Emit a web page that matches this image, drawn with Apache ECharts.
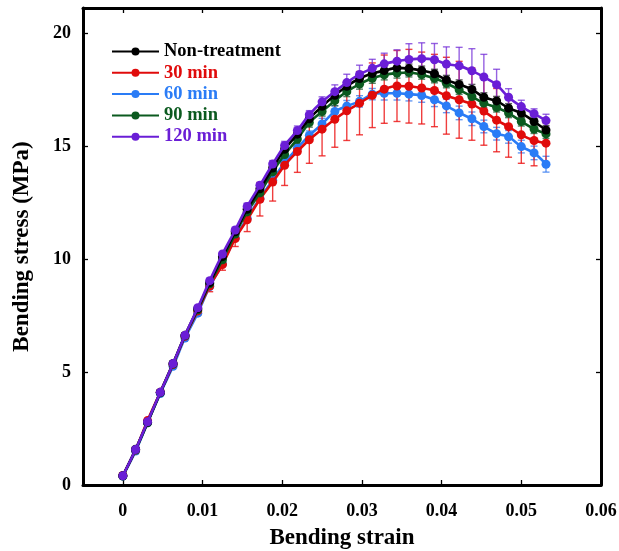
<!DOCTYPE html>
<html><head><meta charset="utf-8">
<script src="https://cdn.jsdelivr.net/npm/echarts@6/dist/echarts.min.js"></script>
<style>html,body{margin:0;padding:0;background:#fff}#c{width:619px;height:551px}</style>
</head><body><div id="c"></div>
<script>
const strain = [0, 0.0016, 0.0031, 0.0047, 0.0063, 0.0078, 0.0094, 0.0109, 0.0125, 0.0141, 0.0156, 0.0172, 0.0188, 0.0203, 0.0219, 0.0234, 0.025, 0.0266, 0.0281, 0.0297, 0.0313, 0.0328, 0.0344, 0.0359, 0.0375, 0.0391, 0.0406, 0.0422, 0.0438, 0.0453, 0.0469, 0.0484, 0.05, 0.0516, 0.0531];

const seriesNames = ['Non-treatment', '30 min', '60 min', '90 min', '120 min'];

const stressNon = [0.41, 1.58, 2.78, 4.10, 5.38, 6.62, 7.80, 8.95, 10.10, 11.20, 12.20, 13.10, 14.02, 14.85, 15.52, 16.20, 16.75, 17.24, 17.64, 17.98, 18.20, 18.33, 18.45, 18.42, 18.33, 18.19, 17.92, 17.72, 17.50, 17.15, 16.99, 16.67, 16.45, 16.08, 15.70];
const err0Non = [0.05, 0.08, 0.05, 0.05, 0.05, 0.05, 0.08, 0.08, 0.10, 0.10, 0.12, 0.15, 0.15, 0.18, 0.20, 0.20, 0.20, 0.22, 0.20, 0.20, 0.22, 0.22, 0.22, 0.20, 0.20, 0.20, 0.20, 0.20, 0.22, 0.20, 0.20, 0.20, 0.20, 0.20, 0.20];

const stress30 = [0.42, 1.55, 2.85, 4.10, 5.33, 6.58, 7.70, 8.80, 9.75, 10.90, 11.73, 12.64, 13.40, 14.14, 14.75, 15.27, 15.74, 16.18, 16.55, 16.89, 17.24, 17.51, 17.65, 17.64, 17.56, 17.45, 17.22, 17.04, 16.85, 16.54, 16.14, 15.85, 15.49, 15.24, 15.12];
const err30 = [0.05, 0.05, 0.10, 0.10, 0.12, 0.15, 0.20, 0.25, 0.25, 0.35, 0.52, 0.74, 0.84, 0.89, 0.92, 1.04, 1.18, 1.24, 1.31, 1.40, 1.43, 1.51, 1.57, 1.63, 1.59, 1.60, 1.70, 1.70, 1.60, 1.51, 1.40, 1.35, 1.26, 1.12, 0.90];

const stress60 = [0.40, 1.50, 2.75, 4.05, 5.25, 6.50, 7.60, 8.78, 9.78, 10.93, 11.80, 12.68, 13.48, 14.26, 14.90, 15.46, 15.97, 16.52, 16.76, 16.97, 17.29, 17.33, 17.33, 17.29, 17.23, 17.04, 16.77, 16.46, 16.20, 15.86, 15.54, 15.40, 14.97, 14.69, 14.19];
const err60 = [0.05, 0.05, 0.05, 0.05, 0.05, 0.05, 0.08, 0.08, 0.10, 0.12, 0.15, 0.15, 0.15, 0.18, 0.20, 0.20, 0.25, 0.25, 0.25, 0.25, 0.25, 0.30, 0.30, 0.30, 0.30, 0.30, 0.30, 0.30, 0.30, 0.28, 0.28, 0.28, 0.28, 0.30, 0.35];

const stress90 = [0.40, 1.55, 2.75, 4.08, 5.35, 6.60, 7.75, 8.90, 9.96, 11.10, 12.08, 12.92, 13.85, 14.62, 15.30, 16.03, 16.52, 17.00, 17.40, 17.73, 17.99, 18.14, 18.22, 18.25, 18.15, 17.99, 17.77, 17.48, 17.18, 16.89, 16.70, 16.45, 16.08, 15.75, 15.53];
const err90 = [0.05, 0.05, 0.05, 0.05, 0.05, 0.05, 0.08, 0.08, 0.10, 0.10, 0.12, 0.15, 0.15, 0.18, 0.20, 0.20, 0.20, 0.22, 0.22, 0.22, 0.22, 0.22, 0.22, 0.20, 0.20, 0.20, 0.20, 0.20, 0.20, 0.20, 0.20, 0.20, 0.20, 0.20, 0.20];

const stress120 = [0.41, 1.57, 2.80, 4.10, 5.37, 6.62, 7.84, 9.04, 10.22, 11.28, 12.32, 13.26, 14.20, 15.02, 15.68, 16.38, 16.95, 17.40, 17.80, 18.16, 18.43, 18.63, 18.75, 18.82, 18.86, 18.81, 18.62, 18.54, 18.32, 18.05, 17.71, 17.15, 16.74, 16.42, 16.12];
const err120 = [0.05, 0.05, 0.05, 0.05, 0.05, 0.08, 0.08, 0.10, 0.10, 0.12, 0.15, 0.12, 0.15, 0.18, 0.20, 0.18, 0.22, 0.30, 0.37, 0.41, 0.40, 0.47, 0.50, 0.70, 0.70, 0.72, 0.76, 0.82, 0.98, 1.00, 0.68, 0.38, 0.28, 0.22, 0.28];

const xTicks = [0, 0.01, 0.02, 0.03, 0.04, 0.05, 0.06];
const yTicks = [0, 5, 10, 15, 20];

const colors = ['#000000', '#e00b0b', '#2a7cf6', '#0b5a1f', '#6a1ed6'];
const errColors = ['rgba(50,50,50,0.8)', 'rgba(235,15,15,0.8)', 'rgba(50,120,240,0.75)', 'rgba(30,85,45,0.75)', 'rgba(115,45,215,0.75)'];
const allStress = [stressNon, stress30, stress60, stress90, stress120];
const allErr = [err0Non, err30, err60, err90, err120];

const FONT = "'Liberation Serif', 'Times New Roman', serif";

function errRender(color) {
  return function (params, api) {
    const x = api.value(0), y = api.value(1), e = api.value(2);
    const t = api.coord([x, y + e]);
    const b = api.coord([x, y - e]);
    const w = 3.5;
    const st = { stroke: color, lineWidth: 1.4 };
    return {
      type: 'group',
      children: [
        { type: 'line', shape: { x1: t[0], y1: t[1], x2: b[0], y2: b[1] }, style: st },
        { type: 'line', shape: { x1: t[0] - w, y1: t[1], x2: t[0] + w, y2: t[1] }, style: st },
        { type: 'line', shape: { x1: b[0] - w, y1: b[1], x2: b[0] + w, y2: b[1] }, style: st }
      ]
    };
  };
}

const drawOrder = [2, 1, 3, 0, 4];
const series = [];
drawOrder.forEach(function (k) {
  series.push({
    type: 'custom',
    name: seriesNames[k] + ' err',
    renderItem: errRender(errColors[k]),
    data: strain.map((x, i) => [x, allStress[k][i], allErr[k][i]]),
    encode: { x: 0, y: 1 },
    z: 1,
    silent: true
  });
});
drawOrder.forEach(function (k, j) {
  series.push({
    type: 'line',
    name: seriesNames[k],
    data: strain.map((x, i) => [x, allStress[k][i]]),
    smooth: 0.3,
    symbol: 'circle',
    symbolSize: 9,
    showSymbol: true,
    color: colors[k],
    lineStyle: { width: 2.6, color: colors[k] },
    itemStyle: { color: colors[k] },
    z: 3 + j
  });
});

const chart = echarts.init(document.getElementById('c'), null, { renderer: 'canvas' });
const axisLine = { show: true, onZero: false, lineStyle: { color: '#000', width: 3 } };
chart.setOption({
  animation: false,
  backgroundColor: '#fff',
  grid: { left: 83, right: 18, top: 8, bottom: 66, containLabel: false, outerBoundsMode: 'none' },
  legend: {
    left: 111, top: 42, orient: 'vertical', padding: 0,
    itemWidth: 47, itemHeight: 10, itemGap: 2.3,
    data: seriesNames.map((n, i) => ({ name: n, textStyle: { color: colors[i] } })),
    textStyle: { fontFamily: FONT, fontWeight: 'bold', fontSize: 18.5 },
    selectedMode: false
  },
  xAxis: [
    {
      type: 'value', min: -0.005, max: 0.06, position: 'bottom',
      axisLine: axisLine,
      axisTick: { show: true, inside: true, length: 5, customValues: xTicks, lineStyle: { color: '#000', width: 1.3 } },
      axisLabel: { customValues: xTicks, color: '#000', fontFamily: FONT, fontWeight: 'bold', fontSize: 18, margin: 17 },
      splitLine: { show: false },
      name: 'Bending strain', nameLocation: 'middle', nameGap: 42,
      nameTextStyle: { color: '#000', fontFamily: FONT, fontWeight: 'bold', fontSize: 23 }
    },
    {
      type: 'value', min: -0.005, max: 0.06, position: 'top',
      axisLine: axisLine,
      axisTick: { show: true, inside: true, length: 5, customValues: xTicks, lineStyle: { color: '#000', width: 1.3 } },
      axisLabel: { show: false },
      splitLine: { show: false }
    }
  ],
  yAxis: [
    {
      type: 'value', min: 0, max: 21.1, position: 'left',
      axisLine: axisLine,
      axisTick: { show: true, inside: true, length: 5, customValues: yTicks, lineStyle: { color: '#000', width: 1.3 } },
      axisLabel: { customValues: yTicks, color: '#000', fontFamily: FONT, fontWeight: 'bold', fontSize: 18, margin: 12 },
      splitLine: { show: false },
      name: 'Bending stress (MPa)', nameLocation: 'middle', nameGap: 49,
      nameTextStyle: { color: '#000', fontFamily: FONT, fontWeight: 'bold', fontSize: 23 }
    },
    {
      type: 'value', min: 0, max: 21.1, position: 'right',
      axisLine: axisLine,
      axisTick: { show: true, inside: true, length: 5, customValues: yTicks, lineStyle: { color: '#000', width: 1.3 } },
      axisLabel: { show: false },
      splitLine: { show: false }
    }
  ],
  series: series
});
</script>
</body></html>
